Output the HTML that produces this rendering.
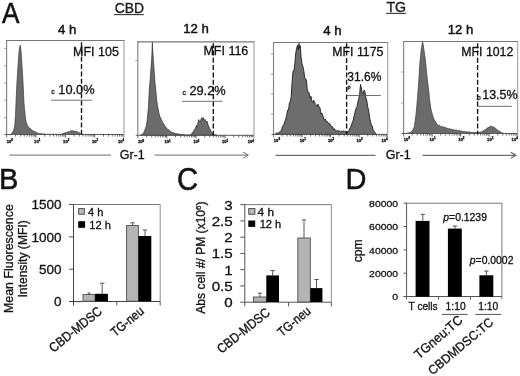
<!DOCTYPE html>
<html><head><meta charset="utf-8"><title>Figure</title>
<style>
html,body{margin:0;padding:0;background:#fff;}
body{width:520px;height:376px;overflow:hidden;font-family:"Liberation Sans",sans-serif;}
svg text{font-family:"Liberation Sans",sans-serif;}
</style></head><body>
<svg width="520" height="376" viewBox="0 0 520 376" style="display:block;filter:blur(0.35px)">
<rect width="520" height="376" fill="#fff"/>
<text x="0.00" y="0.00" font-size="28.8" text-anchor="start" fill="#111" font-family="Liberation Sans, sans-serif" stroke="#111" stroke-width="0.3" style="stroke-width:0.5" transform="translate(1.95,23.40) scale(0.91,1.02)">A</text>
<text x="0.00" y="0.00" font-size="29" text-anchor="start" fill="#111" font-family="Liberation Sans, sans-serif" stroke="#111" stroke-width="0.3" style="stroke-width:0.5" transform="translate(-0.90,188.75) scale(1,1.03)">B</text>
<text x="0.00" y="0.00" font-size="30" text-anchor="start" fill="#111" font-family="Liberation Sans, sans-serif" stroke="#111" stroke-width="0.3" style="stroke-width:0.5" transform="translate(177.10,190.40) scale(0.975,1.04)">C</text>
<text x="0.00" y="0.00" font-size="29" text-anchor="start" fill="#111" font-family="Liberation Sans, sans-serif" stroke="#111" stroke-width="0.3" style="stroke-width:0.5" transform="translate(345.50,188.85) scale(1,1.015)">D</text>
<text x="0.00" y="0.00" font-size="13.9" text-anchor="middle" fill="#222" font-family="Liberation Sans, sans-serif" stroke="#111" stroke-width="0.3"  transform="translate(129.30,12.70) scale(1,1.07)">CBD</text>
<line x1="113.80" y1="14.60" x2="143.80" y2="14.60" stroke="#333" stroke-width="1.1" />
<text x="0.00" y="0.00" font-size="14.2" text-anchor="middle" fill="#222" font-family="Liberation Sans, sans-serif" stroke="#111" stroke-width="0.3"  transform="translate(396.30,12.10) scale(1,1.04)">TG</text>
<line x1="386.20" y1="13.40" x2="406.00" y2="13.40" stroke="#333" stroke-width="1.1" />
<path d="M10.6,134.5 L10.6,134.4 L11.3,133.8 L12.0,133.1 L12.7,132.0 L13.4,130.5 L14.1,128.8 L14.8,125.1 L15.5,114.5 L16.2,98.3 L16.9,83.2 L17.6,72.1 L18.3,62.1 L19.0,52.0 L19.7,46.5 L20.2,45.3 L20.4,45.9 L21.1,51.6 L21.8,62.4 L22.5,73.8 L23.2,86.1 L23.9,101.6 L24.6,109.8 L25.3,116.7 L26.0,121.7 L26.7,123.2 L27.4,125.4 L28.1,126.7 L28.8,127.2 L29.5,127.8 L30.2,128.5 L30.9,129.2 L31.6,129.7 L32.3,130.4 L33.0,130.8 L33.7,131.1 L34.4,131.5 L35.1,131.7 L35.8,132.0 L36.5,132.4 L37.2,132.8 L37.9,133.1 L38.6,133.4 L39.3,133.5 L40.0,133.6 L40.7,133.6 L41.4,133.7 L42.1,133.8 L42.8,133.9 L43.5,133.9 L44.2,134.0 L44.9,134.1 L45.6,134.1 L46.3,134.2 L47.0,134.2 L47.7,134.2 L48.4,134.2 L49.1,134.3 L49.8,134.3 L50.5,134.3 L51.2,134.3 L51.9,134.3 L52.6,134.3 L53.3,134.3 L54.0,134.3 L54.7,134.3 L55.4,134.3 L56.1,134.3 L56.8,134.3 L57.5,134.3 L58.2,134.3 L58.9,134.3 L59.6,134.3 L60.3,134.2 L61.0,134.1 L61.7,134.0 L62.4,133.8 L63.1,133.6 L63.8,133.3 L64.5,133.0 L65.2,132.7 L65.9,132.5 L66.6,132.4 L67.3,132.1 L68.0,131.8 L68.7,131.7 L69.4,131.4 L70.1,131.2 L70.8,131.0 L71.5,130.7 L72.1,130.6 L72.2,130.8 L72.9,130.8 L73.6,131.1 L74.3,131.3 L75.0,131.2 L75.7,131.3 L76.4,131.3 L77.1,131.7 L77.8,132.0 L78.5,132.2 L79.2,132.7 L79.9,133.1 L80.6,133.7 L81.3,134.1 L82.0,134.2 L82.7,134.3 L83.4,134.3 L83.4,134.5 Z" fill="#6b6b6b" stroke="#3a3a3a" stroke-width="0.7" stroke-linejoin="bevel"/>
<line x1="6.10" y1="40.50" x2="124.50" y2="40.50" stroke="#777" stroke-width="1.15" />
<line x1="6.60" y1="40.00" x2="6.60" y2="137.50" stroke="#858585" stroke-width="1.15" />
<line x1="4.60" y1="134.50" x2="124.00" y2="134.50" stroke="#5a5a5a" stroke-width="1" />
<line x1="124.00" y1="40.00" x2="124.00" y2="137.50" stroke="#999" stroke-width="1" />
<line x1="4.10" y1="48.40" x2="6.60" y2="48.40" stroke="#888" stroke-width="0.8" />
<line x1="4.10" y1="65.90" x2="6.60" y2="65.90" stroke="#888" stroke-width="0.8" />
<line x1="4.10" y1="83.00" x2="6.60" y2="83.00" stroke="#888" stroke-width="0.8" />
<line x1="4.10" y1="100.20" x2="6.60" y2="100.20" stroke="#888" stroke-width="0.8" />
<line x1="4.10" y1="117.60" x2="6.60" y2="117.60" stroke="#888" stroke-width="0.8" />
<text x="9.8" y="142.7" font-size="4.1" text-anchor="middle" fill="#222" font-family="Liberation Sans, sans-serif" stroke="#111" stroke-width="0.3" font-weight="bold">10<tspan dy="-1.6" font-size="2.9">0</tspan></text>
<line x1="15.44" y1="134.50" x2="15.44" y2="136.60" stroke="#333" stroke-width="0.7" />
<line x1="20.60" y1="134.50" x2="20.60" y2="136.60" stroke="#333" stroke-width="0.7" />
<line x1="24.27" y1="134.50" x2="24.27" y2="136.60" stroke="#333" stroke-width="0.7" />
<line x1="27.11" y1="134.50" x2="27.11" y2="136.60" stroke="#333" stroke-width="0.7" />
<line x1="29.44" y1="134.50" x2="29.44" y2="136.60" stroke="#333" stroke-width="0.7" />
<line x1="31.40" y1="134.50" x2="31.40" y2="136.60" stroke="#333" stroke-width="0.7" />
<line x1="33.11" y1="134.50" x2="33.11" y2="136.60" stroke="#333" stroke-width="0.7" />
<line x1="34.61" y1="134.50" x2="34.61" y2="136.60" stroke="#333" stroke-width="0.7" />
<line x1="35.95" y1="134.50" x2="35.95" y2="137.50" stroke="#444" stroke-width="0.9" />
<text x="37.2" y="142.7" font-size="4.1" text-anchor="middle" fill="#222" font-family="Liberation Sans, sans-serif" stroke="#111" stroke-width="0.3" font-weight="bold">10<tspan dy="-1.6" font-size="2.9">1</tspan></text>
<line x1="44.79" y1="134.50" x2="44.79" y2="136.60" stroke="#333" stroke-width="0.7" />
<line x1="49.95" y1="134.50" x2="49.95" y2="136.60" stroke="#333" stroke-width="0.7" />
<line x1="53.62" y1="134.50" x2="53.62" y2="136.60" stroke="#333" stroke-width="0.7" />
<line x1="56.46" y1="134.50" x2="56.46" y2="136.60" stroke="#333" stroke-width="0.7" />
<line x1="58.79" y1="134.50" x2="58.79" y2="136.60" stroke="#333" stroke-width="0.7" />
<line x1="60.75" y1="134.50" x2="60.75" y2="136.60" stroke="#333" stroke-width="0.7" />
<line x1="62.46" y1="134.50" x2="62.46" y2="136.60" stroke="#333" stroke-width="0.7" />
<line x1="63.96" y1="134.50" x2="63.96" y2="136.60" stroke="#333" stroke-width="0.7" />
<line x1="65.30" y1="134.50" x2="65.30" y2="137.50" stroke="#444" stroke-width="0.9" />
<text x="66.2" y="142.7" font-size="4.1" text-anchor="middle" fill="#222" font-family="Liberation Sans, sans-serif" stroke="#111" stroke-width="0.3" font-weight="bold">10<tspan dy="-1.6" font-size="2.9">2</tspan></text>
<line x1="74.14" y1="134.50" x2="74.14" y2="136.60" stroke="#333" stroke-width="0.7" />
<line x1="79.30" y1="134.50" x2="79.30" y2="136.60" stroke="#333" stroke-width="0.7" />
<line x1="82.97" y1="134.50" x2="82.97" y2="136.60" stroke="#333" stroke-width="0.7" />
<line x1="85.81" y1="134.50" x2="85.81" y2="136.60" stroke="#333" stroke-width="0.7" />
<line x1="88.14" y1="134.50" x2="88.14" y2="136.60" stroke="#333" stroke-width="0.7" />
<line x1="90.10" y1="134.50" x2="90.10" y2="136.60" stroke="#333" stroke-width="0.7" />
<line x1="91.81" y1="134.50" x2="91.81" y2="136.60" stroke="#333" stroke-width="0.7" />
<line x1="93.31" y1="134.50" x2="93.31" y2="136.60" stroke="#333" stroke-width="0.7" />
<line x1="94.65" y1="134.50" x2="94.65" y2="137.50" stroke="#444" stroke-width="0.9" />
<text x="95.1" y="142.7" font-size="4.1" text-anchor="middle" fill="#222" font-family="Liberation Sans, sans-serif" stroke="#111" stroke-width="0.3" font-weight="bold">10<tspan dy="-1.6" font-size="2.9">3</tspan></text>
<line x1="103.49" y1="134.50" x2="103.49" y2="136.60" stroke="#333" stroke-width="0.7" />
<line x1="108.65" y1="134.50" x2="108.65" y2="136.60" stroke="#333" stroke-width="0.7" />
<line x1="112.32" y1="134.50" x2="112.32" y2="136.60" stroke="#333" stroke-width="0.7" />
<line x1="115.16" y1="134.50" x2="115.16" y2="136.60" stroke="#333" stroke-width="0.7" />
<line x1="117.49" y1="134.50" x2="117.49" y2="136.60" stroke="#333" stroke-width="0.7" />
<line x1="119.45" y1="134.50" x2="119.45" y2="136.60" stroke="#333" stroke-width="0.7" />
<line x1="121.16" y1="134.50" x2="121.16" y2="136.60" stroke="#333" stroke-width="0.7" />
<line x1="122.66" y1="134.50" x2="122.66" y2="136.60" stroke="#333" stroke-width="0.7" />
<text x="121.0" y="142.7" font-size="4.1" text-anchor="middle" fill="#222" font-family="Liberation Sans, sans-serif" stroke="#111" stroke-width="0.3" font-weight="bold">10<tspan dy="-1.6" font-size="2.9">4</tspan></text>
<line x1="81.50" y1="40.50" x2="81.50" y2="134.50" stroke="#111" stroke-width="1.35" stroke-dasharray="5,2.3" stroke-dashoffset="5.6"/>
<text x="0.00" y="0.00" font-size="13.2" text-anchor="middle" fill="#111" font-family="Liberation Sans, sans-serif" stroke="#111" stroke-width="0.3" style="stroke-width:0.45" transform="translate(67.20,33.70) scale(1,1.0)">4 h</text>
<text x="73.00" y="55.50" font-size="12.5" text-anchor="start" fill="#111" font-family="Liberation Sans, sans-serif" stroke="#111" stroke-width="0.3" >MFI 105</text>
<text x="58.30" y="93.80" font-size="12.8" text-anchor="start" fill="#111" font-family="Liberation Sans, sans-serif" stroke="#111" stroke-width="0.3" >10.0%</text>
<text x="51.20" y="93.60" font-size="6.8" text-anchor="start" fill="#222" font-family="Liberation Sans, sans-serif" stroke="#111" stroke-width="0.3" >c</text>
<line x1="51.00" y1="100.20" x2="92.00" y2="100.20" stroke="#5a5a5a" stroke-width="0.85" />
<path d="M140.5,135.3 L140.5,135.0 L141.3,134.8 L142.1,134.4 L142.9,133.7 L143.7,132.5 L144.5,131.0 L145.3,128.7 L146.1,126.7 L146.9,122.7 L147.7,115.1 L148.5,106.6 L149.3,89.5 L150.1,81.0 L150.9,69.2 L151.7,59.3 L152.4,42.0 L152.5,46.2 L153.3,59.4 L154.1,70.0 L154.9,81.8 L155.7,89.0 L156.5,98.8 L157.3,104.4 L158.1,109.0 L158.9,112.8 L159.7,116.3 L160.5,117.5 L161.3,119.4 L162.1,121.2 L162.9,123.2 L163.7,123.6 L164.5,125.2 L165.3,126.6 L166.1,127.7 L166.9,128.4 L167.7,129.2 L168.5,129.6 L169.3,130.5 L170.1,130.9 L170.9,131.7 L171.7,132.2 L172.5,132.2 L173.3,132.6 L174.1,133.1 L174.9,133.3 L175.7,133.5 L176.5,133.7 L177.3,133.8 L178.1,133.8 L178.9,134.2 L179.7,134.3 L180.5,134.4 L181.3,134.5 L182.1,134.5 L182.9,134.6 L183.7,134.7 L184.5,134.8 L185.3,134.8 L185.3,135.3 Z" fill="#6b6b6b" stroke="#2e2e2e" stroke-width="0.7" stroke-linejoin="bevel"/>
<path d="M186.0,135.3 L186.0,135.0 L186.2,135.0 L186.5,135.0 L186.8,135.0 L187.0,135.0 L187.2,135.0 L187.5,135.0 L187.8,135.0 L188.0,135.0 L188.2,135.0 L188.5,135.0 L188.8,135.0 L189.0,135.0 L189.2,135.0 L189.5,135.0 L189.8,135.0 L190.0,135.0 L190.2,135.0 L190.5,135.0 L190.8,134.8 L191.0,134.5 L191.2,134.2 L191.5,133.9 L191.8,133.6 L192.0,133.2 L192.2,132.9 L192.5,132.6 L192.8,132.3 L193.0,131.9 L193.2,131.6 L193.5,131.3 L193.8,131.0 L194.0,130.6 L194.2,130.1 L194.5,129.7 L194.8,129.3 L195.0,128.9 L195.2,128.5 L195.5,128.0 L195.8,127.3 L196.0,126.7 L196.2,126.1 L196.5,125.5 L196.8,126.0 L197.0,126.6 L197.2,125.8 L197.5,124.9 L197.8,124.1 L198.0,123.2 L198.2,121.9 L198.5,120.3 L198.6,119.7 L198.8,119.9 L199.0,120.3 L199.2,120.6 L199.5,120.9 L199.8,121.2 L200.0,121.5 L200.2,121.7 L200.5,120.9 L200.8,120.2 L201.0,119.5 L201.2,118.7 L201.5,118.2 L201.8,117.7 L201.8,117.6 L202.0,118.2 L202.2,118.9 L202.5,119.6 L202.8,119.5 L203.0,118.8 L203.2,118.0 L203.4,117.6 L203.5,117.9 L203.8,118.7 L204.0,119.5 L204.2,120.2 L204.5,120.3 L204.8,120.1 L205.0,119.9 L205.2,119.7 L205.3,119.7 L205.5,120.4 L205.8,121.3 L206.0,122.2 L206.2,122.3 L206.5,122.0 L206.8,121.7 L207.0,121.4 L207.1,121.3 L207.2,121.9 L207.5,122.9 L207.8,123.9 L208.0,124.8 L208.2,125.4 L208.5,126.1 L208.8,126.7 L209.0,127.3 L209.2,127.8 L209.5,128.3 L209.8,128.7 L210.0,129.2 L210.2,129.7 L210.5,130.2 L210.8,130.7 L211.0,131.1 L211.2,131.6 L211.5,132.0 L211.8,132.3 L212.0,132.6 L212.2,132.9 L212.5,133.2 L212.8,133.5 L213.0,133.8 L213.2,134.0 L213.5,134.1 L213.8,134.3 L214.0,134.5 L214.2,134.7 L214.5,134.8 L214.8,134.9 L215.0,135.0 L215.2,135.0 L215.5,135.0 L215.8,135.1 L216.0,135.1 L216.2,135.2 L216.5,135.2 L216.8,135.2 L217.0,135.3 L217.0,135.3 Z" fill="#6b6b6b" stroke="#222" stroke-width="0.8" stroke-linejoin="bevel"/>
<line x1="137.30" y1="41.80" x2="254.50" y2="41.80" stroke="#777" stroke-width="1.15" />
<line x1="137.80" y1="41.30" x2="137.80" y2="138.30" stroke="#858585" stroke-width="1.15" />
<line x1="135.80" y1="135.30" x2="254.00" y2="135.30" stroke="#5a5a5a" stroke-width="1" />
<line x1="254.00" y1="41.30" x2="254.00" y2="138.30" stroke="#999" stroke-width="1" />
<line x1="135.30" y1="60.50" x2="137.80" y2="60.50" stroke="#888" stroke-width="0.8" />
<text x="141.0" y="143.4" font-size="4.1" text-anchor="middle" fill="#222" font-family="Liberation Sans, sans-serif" stroke="#111" stroke-width="0.3" font-weight="bold">10<tspan dy="-1.6" font-size="2.9">0</tspan></text>
<line x1="146.54" y1="135.30" x2="146.54" y2="137.40" stroke="#333" stroke-width="0.7" />
<line x1="151.66" y1="135.30" x2="151.66" y2="137.40" stroke="#333" stroke-width="0.7" />
<line x1="155.29" y1="135.30" x2="155.29" y2="137.40" stroke="#333" stroke-width="0.7" />
<line x1="158.11" y1="135.30" x2="158.11" y2="137.40" stroke="#333" stroke-width="0.7" />
<line x1="160.41" y1="135.30" x2="160.41" y2="137.40" stroke="#333" stroke-width="0.7" />
<line x1="162.35" y1="135.30" x2="162.35" y2="137.40" stroke="#333" stroke-width="0.7" />
<line x1="164.03" y1="135.30" x2="164.03" y2="137.40" stroke="#333" stroke-width="0.7" />
<line x1="165.52" y1="135.30" x2="165.52" y2="137.40" stroke="#333" stroke-width="0.7" />
<line x1="166.85" y1="135.30" x2="166.85" y2="138.30" stroke="#444" stroke-width="0.9" />
<text x="167.6" y="143.4" font-size="4.1" text-anchor="middle" fill="#222" font-family="Liberation Sans, sans-serif" stroke="#111" stroke-width="0.3" font-weight="bold">10<tspan dy="-1.6" font-size="2.9">1</tspan></text>
<line x1="175.59" y1="135.30" x2="175.59" y2="137.40" stroke="#333" stroke-width="0.7" />
<line x1="180.71" y1="135.30" x2="180.71" y2="137.40" stroke="#333" stroke-width="0.7" />
<line x1="184.34" y1="135.30" x2="184.34" y2="137.40" stroke="#333" stroke-width="0.7" />
<line x1="187.16" y1="135.30" x2="187.16" y2="137.40" stroke="#333" stroke-width="0.7" />
<line x1="189.46" y1="135.30" x2="189.46" y2="137.40" stroke="#333" stroke-width="0.7" />
<line x1="191.40" y1="135.30" x2="191.40" y2="137.40" stroke="#333" stroke-width="0.7" />
<line x1="193.08" y1="135.30" x2="193.08" y2="137.40" stroke="#333" stroke-width="0.7" />
<line x1="194.57" y1="135.30" x2="194.57" y2="137.40" stroke="#333" stroke-width="0.7" />
<line x1="195.90" y1="135.30" x2="195.90" y2="138.30" stroke="#444" stroke-width="0.9" />
<text x="196.3" y="143.4" font-size="4.1" text-anchor="middle" fill="#222" font-family="Liberation Sans, sans-serif" stroke="#111" stroke-width="0.3" font-weight="bold">10<tspan dy="-1.6" font-size="2.9">2</tspan></text>
<line x1="204.64" y1="135.30" x2="204.64" y2="137.40" stroke="#333" stroke-width="0.7" />
<line x1="209.76" y1="135.30" x2="209.76" y2="137.40" stroke="#333" stroke-width="0.7" />
<line x1="213.39" y1="135.30" x2="213.39" y2="137.40" stroke="#333" stroke-width="0.7" />
<line x1="216.21" y1="135.30" x2="216.21" y2="137.40" stroke="#333" stroke-width="0.7" />
<line x1="218.51" y1="135.30" x2="218.51" y2="137.40" stroke="#333" stroke-width="0.7" />
<line x1="220.45" y1="135.30" x2="220.45" y2="137.40" stroke="#333" stroke-width="0.7" />
<line x1="222.13" y1="135.30" x2="222.13" y2="137.40" stroke="#333" stroke-width="0.7" />
<line x1="223.62" y1="135.30" x2="223.62" y2="137.40" stroke="#333" stroke-width="0.7" />
<line x1="224.95" y1="135.30" x2="224.95" y2="138.30" stroke="#444" stroke-width="0.9" />
<text x="225.0" y="143.4" font-size="4.1" text-anchor="middle" fill="#222" font-family="Liberation Sans, sans-serif" stroke="#111" stroke-width="0.3" font-weight="bold">10<tspan dy="-1.6" font-size="2.9">3</tspan></text>
<line x1="233.69" y1="135.30" x2="233.69" y2="137.40" stroke="#333" stroke-width="0.7" />
<line x1="238.81" y1="135.30" x2="238.81" y2="137.40" stroke="#333" stroke-width="0.7" />
<line x1="242.44" y1="135.30" x2="242.44" y2="137.40" stroke="#333" stroke-width="0.7" />
<line x1="245.26" y1="135.30" x2="245.26" y2="137.40" stroke="#333" stroke-width="0.7" />
<line x1="247.56" y1="135.30" x2="247.56" y2="137.40" stroke="#333" stroke-width="0.7" />
<line x1="249.50" y1="135.30" x2="249.50" y2="137.40" stroke="#333" stroke-width="0.7" />
<line x1="251.18" y1="135.30" x2="251.18" y2="137.40" stroke="#333" stroke-width="0.7" />
<line x1="252.67" y1="135.30" x2="252.67" y2="137.40" stroke="#333" stroke-width="0.7" />
<text x="250.8" y="143.4" font-size="4.1" text-anchor="middle" fill="#222" font-family="Liberation Sans, sans-serif" stroke="#111" stroke-width="0.3" font-weight="bold">10<tspan dy="-1.6" font-size="2.9">4</tspan></text>
<line x1="213.30" y1="41.50" x2="213.30" y2="135.30" stroke="#111" stroke-width="1.35" stroke-dasharray="5,2.3" stroke-dashoffset="5.6"/>
<text x="0.00" y="0.00" font-size="13.2" text-anchor="middle" fill="#111" font-family="Liberation Sans, sans-serif" stroke="#111" stroke-width="0.3" style="stroke-width:0.45" transform="translate(196.00,33.30) scale(1,1.0)">12 h</text>
<text x="203.40" y="54.80" font-size="12.5" text-anchor="start" fill="#111" font-family="Liberation Sans, sans-serif" stroke="#111" stroke-width="0.3" >MFI 116</text>
<text x="189.40" y="95.30" font-size="12.8" text-anchor="start" fill="#111" font-family="Liberation Sans, sans-serif" stroke="#111" stroke-width="0.3" >29.2%</text>
<text x="182.60" y="95.20" font-size="6.8" text-anchor="start" fill="#222" font-family="Liberation Sans, sans-serif" stroke="#111" stroke-width="0.3" >c</text>
<line x1="182.00" y1="101.30" x2="222.50" y2="101.30" stroke="#5a5a5a" stroke-width="0.85" />
<line x1="9.50" y1="155.10" x2="111.00" y2="155.10" stroke="#8a8a8a" stroke-width="1.3" />
<line x1="154.50" y1="155.10" x2="247.50" y2="155.10" stroke="#8a8a8a" stroke-width="1.3" />
<path d="M243.2,152.1 L248,155.1 L243.2,158.1" fill="none" stroke="#777" stroke-width="1.1"/>
<text x="132.20" y="158.70" font-size="12.5" text-anchor="middle" fill="#111" font-family="Liberation Sans, sans-serif" stroke="#111" stroke-width="0.3" >Gr-1</text>
<path d="M275.0,134.4 L275.0,134.3 L275.9,133.6 L276.8,133.0 L277.7,133.2 L278.6,132.8 L279.5,131.9 L280.4,131.4 L281.3,130.8 L282.2,127.3 L283.1,125.6 L284.0,124.3 L284.9,121.5 L285.8,118.9 L286.7,115.1 L287.6,110.1 L288.5,110.1 L289.4,103.1 L290.3,101.3 L291.2,96.6 L292.1,81.7 L293.0,71.1 L293.9,70.8 L294.8,63.8 L295.7,53.3 L296.6,48.3 L297.5,45.2 L298.4,49.9 L299.0,43.3 L299.3,48.1 L300.2,45.6 L301.1,57.2 L302.0,64.1 L302.9,66.3 L303.8,70.9 L304.7,77.7 L305.6,78.4 L306.5,81.0 L307.4,91.8 L308.3,91.7 L309.2,93.1 L310.1,98.1 L311.0,96.3 L311.9,101.1 L312.8,102.5 L313.7,100.2 L314.6,102.3 L315.5,104.4 L316.4,104.9 L317.3,106.5 L318.2,104.1 L318.3,105.5 L319.1,107.0 L320.0,107.7 L320.9,114.1 L321.8,112.9 L322.7,115.3 L323.6,117.7 L324.5,120.3 L325.4,119.1 L326.3,122.1 L327.2,121.3 L328.1,122.7 L329.0,124.0 L329.9,123.6 L330.8,126.2 L331.7,126.3 L332.6,126.7 L333.5,129.8 L334.4,128.7 L335.3,129.9 L336.2,130.9 L337.1,130.9 L338.0,130.5 L338.9,131.1 L339.8,131.3 L340.7,131.9 L341.6,130.7 L342.5,131.6 L343.4,130.9 L344.3,131.0 L345.2,131.9 L346.1,131.3 L347.0,131.4 L347.9,131.8 L348.8,131.0 L349.7,128.5 L350.6,127.3 L351.5,124.6 L352.4,122.2 L353.3,120.0 L354.2,115.3 L355.1,112.1 L356.0,108.2 L356.9,107.4 L357.8,102.2 L358.7,98.8 L359.6,94.6 L360.5,84.4 L360.7,85.2 L361.4,87.8 L362.3,93.4 L363.2,93.9 L364.1,90.1 L365.0,91.9 L365.9,97.6 L366.8,100.6 L367.7,106.6 L368.6,110.3 L369.5,117.1 L370.4,121.1 L371.3,125.0 L372.2,125.7 L373.1,130.0 L374.0,131.7 L374.9,132.2 L375.8,133.6 L375.8,134.4 Z" fill="#6d6d6d" stroke="#161616" stroke-width="0.85" stroke-linejoin="bevel"/>
<line x1="273.00" y1="42.45" x2="388.20" y2="42.45" stroke="#777" stroke-width="1.15" />
<line x1="273.50" y1="41.95" x2="273.50" y2="137.40" stroke="#858585" stroke-width="1.15" />
<line x1="271.50" y1="134.40" x2="387.70" y2="134.40" stroke="#5a5a5a" stroke-width="1" />
<line x1="387.70" y1="41.95" x2="387.70" y2="137.40" stroke="#999" stroke-width="1" />
<line x1="271.00" y1="54.00" x2="273.50" y2="54.00" stroke="#888" stroke-width="0.8" />
<line x1="271.00" y1="74.20" x2="273.50" y2="74.20" stroke="#888" stroke-width="0.8" />
<line x1="271.00" y1="94.10" x2="273.50" y2="94.10" stroke="#888" stroke-width="0.8" />
<line x1="271.00" y1="114.00" x2="273.50" y2="114.00" stroke="#888" stroke-width="0.8" />
<text x="276.9" y="141.5" font-size="4.1" text-anchor="middle" fill="#222" font-family="Liberation Sans, sans-serif" stroke="#111" stroke-width="0.3" font-weight="bold">10<tspan dy="-1.6" font-size="2.9">0</tspan></text>
<line x1="282.09" y1="134.40" x2="282.09" y2="136.50" stroke="#333" stroke-width="0.7" />
<line x1="287.12" y1="134.40" x2="287.12" y2="136.50" stroke="#333" stroke-width="0.7" />
<line x1="290.69" y1="134.40" x2="290.69" y2="136.50" stroke="#333" stroke-width="0.7" />
<line x1="293.46" y1="134.40" x2="293.46" y2="136.50" stroke="#333" stroke-width="0.7" />
<line x1="295.72" y1="134.40" x2="295.72" y2="136.50" stroke="#333" stroke-width="0.7" />
<line x1="297.63" y1="134.40" x2="297.63" y2="136.50" stroke="#333" stroke-width="0.7" />
<line x1="299.28" y1="134.40" x2="299.28" y2="136.50" stroke="#333" stroke-width="0.7" />
<line x1="300.74" y1="134.40" x2="300.74" y2="136.50" stroke="#333" stroke-width="0.7" />
<line x1="302.05" y1="134.40" x2="302.05" y2="137.40" stroke="#444" stroke-width="0.9" />
<text x="302.8" y="141.5" font-size="4.1" text-anchor="middle" fill="#222" font-family="Liberation Sans, sans-serif" stroke="#111" stroke-width="0.3" font-weight="bold">10<tspan dy="-1.6" font-size="2.9">1</tspan></text>
<line x1="310.64" y1="134.40" x2="310.64" y2="136.50" stroke="#333" stroke-width="0.7" />
<line x1="315.67" y1="134.40" x2="315.67" y2="136.50" stroke="#333" stroke-width="0.7" />
<line x1="319.24" y1="134.40" x2="319.24" y2="136.50" stroke="#333" stroke-width="0.7" />
<line x1="322.01" y1="134.40" x2="322.01" y2="136.50" stroke="#333" stroke-width="0.7" />
<line x1="324.27" y1="134.40" x2="324.27" y2="136.50" stroke="#333" stroke-width="0.7" />
<line x1="326.18" y1="134.40" x2="326.18" y2="136.50" stroke="#333" stroke-width="0.7" />
<line x1="327.83" y1="134.40" x2="327.83" y2="136.50" stroke="#333" stroke-width="0.7" />
<line x1="329.29" y1="134.40" x2="329.29" y2="136.50" stroke="#333" stroke-width="0.7" />
<line x1="330.60" y1="134.40" x2="330.60" y2="137.40" stroke="#444" stroke-width="0.9" />
<text x="331.1" y="141.5" font-size="4.1" text-anchor="middle" fill="#222" font-family="Liberation Sans, sans-serif" stroke="#111" stroke-width="0.3" font-weight="bold">10<tspan dy="-1.6" font-size="2.9">2</tspan></text>
<line x1="339.19" y1="134.40" x2="339.19" y2="136.50" stroke="#333" stroke-width="0.7" />
<line x1="344.22" y1="134.40" x2="344.22" y2="136.50" stroke="#333" stroke-width="0.7" />
<line x1="347.79" y1="134.40" x2="347.79" y2="136.50" stroke="#333" stroke-width="0.7" />
<line x1="350.56" y1="134.40" x2="350.56" y2="136.50" stroke="#333" stroke-width="0.7" />
<line x1="352.82" y1="134.40" x2="352.82" y2="136.50" stroke="#333" stroke-width="0.7" />
<line x1="354.73" y1="134.40" x2="354.73" y2="136.50" stroke="#333" stroke-width="0.7" />
<line x1="356.38" y1="134.40" x2="356.38" y2="136.50" stroke="#333" stroke-width="0.7" />
<line x1="357.84" y1="134.40" x2="357.84" y2="136.50" stroke="#333" stroke-width="0.7" />
<line x1="359.15" y1="134.40" x2="359.15" y2="137.40" stroke="#444" stroke-width="0.9" />
<text x="359.6" y="141.5" font-size="4.1" text-anchor="middle" fill="#222" font-family="Liberation Sans, sans-serif" stroke="#111" stroke-width="0.3" font-weight="bold">10<tspan dy="-1.6" font-size="2.9">3</tspan></text>
<line x1="367.74" y1="134.40" x2="367.74" y2="136.50" stroke="#333" stroke-width="0.7" />
<line x1="372.77" y1="134.40" x2="372.77" y2="136.50" stroke="#333" stroke-width="0.7" />
<line x1="376.34" y1="134.40" x2="376.34" y2="136.50" stroke="#333" stroke-width="0.7" />
<line x1="379.11" y1="134.40" x2="379.11" y2="136.50" stroke="#333" stroke-width="0.7" />
<line x1="381.37" y1="134.40" x2="381.37" y2="136.50" stroke="#333" stroke-width="0.7" />
<line x1="383.28" y1="134.40" x2="383.28" y2="136.50" stroke="#333" stroke-width="0.7" />
<line x1="384.93" y1="134.40" x2="384.93" y2="136.50" stroke="#333" stroke-width="0.7" />
<line x1="386.39" y1="134.40" x2="386.39" y2="136.50" stroke="#333" stroke-width="0.7" />
<text x="384.6" y="141.5" font-size="4.1" text-anchor="middle" fill="#222" font-family="Liberation Sans, sans-serif" stroke="#111" stroke-width="0.3" font-weight="bold">10<tspan dy="-1.6" font-size="2.9">4</tspan></text>
<line x1="346.60" y1="41.60" x2="346.60" y2="134.20" stroke="#111" stroke-width="1.35" stroke-dasharray="5,2.3" stroke-dashoffset="5.6"/>
<text x="0.00" y="0.00" font-size="13.2" text-anchor="middle" fill="#111" font-family="Liberation Sans, sans-serif" stroke="#111" stroke-width="0.3" style="stroke-width:0.45" transform="translate(332.30,35.30) scale(1,1.0)">4 h</text>
<text x="332.30" y="55.50" font-size="12.3" text-anchor="start" fill="#111" font-family="Liberation Sans, sans-serif" stroke="#111" stroke-width="0.3" >MFI 1175</text>
<text x="347.30" y="80.50" font-size="12.0" text-anchor="start" fill="#111" font-family="Liberation Sans, sans-serif" stroke="#111" stroke-width="0.3" >31.6%</text>
<text x="347.50" y="89.50" font-size="4.5" text-anchor="start" fill="#222" font-family="Liberation Sans, sans-serif" stroke="#111" stroke-width="0.3" font-weight="bold">P</text>
<line x1="346.80" y1="95.50" x2="380.80" y2="95.50" stroke="#555" stroke-width="0.85" />
<path d="M405.5,133.5 L405.5,133.5 L406.3,133.4 L407.1,133.2 L407.9,133.1 L408.7,132.9 L409.5,132.6 L410.3,132.3 L411.1,132.0 L411.9,131.3 L412.7,130.0 L413.5,128.9 L414.3,126.5 L415.1,121.2 L415.9,115.3 L416.7,107.3 L417.5,97.6 L418.3,87.7 L419.1,75.9 L419.9,63.3 L420.7,54.6 L421.5,47.7 L422.3,43.5 L422.5,41.8 L423.1,44.1 L423.9,49.6 L424.7,55.3 L425.5,61.0 L426.3,69.4 L427.1,77.2 L427.9,84.1 L428.7,90.6 L429.5,98.6 L430.3,105.0 L431.1,110.0 L431.9,112.7 L432.7,115.7 L433.5,117.9 L434.3,120.0 L435.1,121.1 L435.9,122.2 L436.7,123.6 L437.5,124.9 L438.3,125.2 L439.1,125.2 L439.9,125.5 L440.7,126.4 L441.5,126.5 L442.3,126.8 L443.1,126.7 L443.9,127.0 L444.7,127.6 L445.5,127.7 L446.3,127.8 L447.1,128.5 L447.9,128.6 L448.7,128.8 L449.5,128.6 L450.3,129.2 L451.1,129.0 L451.9,129.5 L452.7,129.5 L453.5,129.6 L454.3,129.9 L455.1,130.2 L455.9,130.1 L456.7,130.2 L457.5,130.5 L458.3,130.5 L459.1,130.7 L459.9,130.8 L460.7,130.9 L461.5,131.1 L462.3,131.3 L463.1,131.4 L463.9,131.6 L464.7,131.5 L465.5,131.7 L466.3,131.7 L467.1,131.8 L467.9,131.8 L468.7,132.0 L469.5,132.0 L470.3,132.3 L471.1,132.3 L471.9,132.4 L472.7,132.5 L473.5,132.5 L474.3,132.5 L475.1,132.5 L475.9,132.6 L476.7,132.6 L477.5,132.6 L478.3,132.5 L479.1,132.4 L479.9,132.2 L480.7,132.0 L481.5,131.7 L482.3,131.4 L483.1,130.7 L483.9,130.5 L484.7,129.9 L485.5,129.4 L486.3,129.0 L487.1,128.2 L487.9,127.6 L488.7,127.2 L489.5,127.0 L490.3,126.2 L491.0,126.0 L491.1,126.2 L491.9,126.5 L492.7,126.8 L493.5,127.0 L494.3,127.5 L495.1,128.0 L495.9,128.6 L496.7,129.3 L497.5,130.2 L498.3,130.6 L499.1,131.0 L499.9,131.4 L500.7,132.1 L501.5,132.4 L502.3,132.9 L503.1,133.1 L503.9,133.3 L504.7,133.5 L505.5,133.5 L505.5,133.5 Z" fill="#6b6b6b" stroke="#3a3a3a" stroke-width="0.7" stroke-linejoin="bevel"/>
<line x1="403.10" y1="41.50" x2="518.20" y2="41.50" stroke="#777" stroke-width="1.15" />
<line x1="403.60" y1="41.00" x2="403.60" y2="136.50" stroke="#858585" stroke-width="1.15" />
<line x1="401.60" y1="133.50" x2="517.70" y2="133.50" stroke="#5a5a5a" stroke-width="1" />
<line x1="517.70" y1="41.00" x2="517.70" y2="136.50" stroke="#999" stroke-width="1" />
<line x1="401.10" y1="72.00" x2="403.60" y2="72.00" stroke="#888" stroke-width="0.8" />
<line x1="401.10" y1="103.00" x2="403.60" y2="103.00" stroke="#888" stroke-width="0.8" />
<text x="406.9" y="140.6" font-size="4.1" text-anchor="middle" fill="#222" font-family="Liberation Sans, sans-serif" stroke="#111" stroke-width="0.3" font-weight="bold">10<tspan dy="-1.6" font-size="2.9">0</tspan></text>
<line x1="412.19" y1="133.50" x2="412.19" y2="135.60" stroke="#333" stroke-width="0.7" />
<line x1="417.21" y1="133.50" x2="417.21" y2="135.60" stroke="#333" stroke-width="0.7" />
<line x1="420.77" y1="133.50" x2="420.77" y2="135.60" stroke="#333" stroke-width="0.7" />
<line x1="423.54" y1="133.50" x2="423.54" y2="135.60" stroke="#333" stroke-width="0.7" />
<line x1="425.80" y1="133.50" x2="425.80" y2="135.60" stroke="#333" stroke-width="0.7" />
<line x1="427.71" y1="133.50" x2="427.71" y2="135.60" stroke="#333" stroke-width="0.7" />
<line x1="429.36" y1="133.50" x2="429.36" y2="135.60" stroke="#333" stroke-width="0.7" />
<line x1="430.82" y1="133.50" x2="430.82" y2="135.60" stroke="#333" stroke-width="0.7" />
<line x1="432.12" y1="133.50" x2="432.12" y2="136.50" stroke="#444" stroke-width="0.9" />
<text x="432.5" y="140.6" font-size="4.1" text-anchor="middle" fill="#222" font-family="Liberation Sans, sans-serif" stroke="#111" stroke-width="0.3" font-weight="bold">10<tspan dy="-1.6" font-size="2.9">1</tspan></text>
<line x1="440.71" y1="133.50" x2="440.71" y2="135.60" stroke="#333" stroke-width="0.7" />
<line x1="445.73" y1="133.50" x2="445.73" y2="135.60" stroke="#333" stroke-width="0.7" />
<line x1="449.30" y1="133.50" x2="449.30" y2="135.60" stroke="#333" stroke-width="0.7" />
<line x1="452.06" y1="133.50" x2="452.06" y2="135.60" stroke="#333" stroke-width="0.7" />
<line x1="454.32" y1="133.50" x2="454.32" y2="135.60" stroke="#333" stroke-width="0.7" />
<line x1="456.23" y1="133.50" x2="456.23" y2="135.60" stroke="#333" stroke-width="0.7" />
<line x1="457.89" y1="133.50" x2="457.89" y2="135.60" stroke="#333" stroke-width="0.7" />
<line x1="459.34" y1="133.50" x2="459.34" y2="135.60" stroke="#333" stroke-width="0.7" />
<line x1="460.65" y1="133.50" x2="460.65" y2="136.50" stroke="#444" stroke-width="0.9" />
<text x="461.3" y="140.6" font-size="4.1" text-anchor="middle" fill="#222" font-family="Liberation Sans, sans-serif" stroke="#111" stroke-width="0.3" font-weight="bold">10<tspan dy="-1.6" font-size="2.9">2</tspan></text>
<line x1="469.24" y1="133.50" x2="469.24" y2="135.60" stroke="#333" stroke-width="0.7" />
<line x1="474.26" y1="133.50" x2="474.26" y2="135.60" stroke="#333" stroke-width="0.7" />
<line x1="477.82" y1="133.50" x2="477.82" y2="135.60" stroke="#333" stroke-width="0.7" />
<line x1="480.59" y1="133.50" x2="480.59" y2="135.60" stroke="#333" stroke-width="0.7" />
<line x1="482.85" y1="133.50" x2="482.85" y2="135.60" stroke="#333" stroke-width="0.7" />
<line x1="484.76" y1="133.50" x2="484.76" y2="135.60" stroke="#333" stroke-width="0.7" />
<line x1="486.41" y1="133.50" x2="486.41" y2="135.60" stroke="#333" stroke-width="0.7" />
<line x1="487.87" y1="133.50" x2="487.87" y2="135.60" stroke="#333" stroke-width="0.7" />
<line x1="489.18" y1="133.50" x2="489.18" y2="136.50" stroke="#444" stroke-width="0.9" />
<text x="490.2" y="140.6" font-size="4.1" text-anchor="middle" fill="#222" font-family="Liberation Sans, sans-serif" stroke="#111" stroke-width="0.3" font-weight="bold">10<tspan dy="-1.6" font-size="2.9">3</tspan></text>
<line x1="497.76" y1="133.50" x2="497.76" y2="135.60" stroke="#333" stroke-width="0.7" />
<line x1="502.78" y1="133.50" x2="502.78" y2="135.60" stroke="#333" stroke-width="0.7" />
<line x1="506.35" y1="133.50" x2="506.35" y2="135.60" stroke="#333" stroke-width="0.7" />
<line x1="509.11" y1="133.50" x2="509.11" y2="135.60" stroke="#333" stroke-width="0.7" />
<line x1="511.37" y1="133.50" x2="511.37" y2="135.60" stroke="#333" stroke-width="0.7" />
<line x1="513.28" y1="133.50" x2="513.28" y2="135.60" stroke="#333" stroke-width="0.7" />
<line x1="514.94" y1="133.50" x2="514.94" y2="135.60" stroke="#333" stroke-width="0.7" />
<line x1="516.39" y1="133.50" x2="516.39" y2="135.60" stroke="#333" stroke-width="0.7" />
<text x="514.7" y="140.6" font-size="4.1" text-anchor="middle" fill="#222" font-family="Liberation Sans, sans-serif" stroke="#111" stroke-width="0.3" font-weight="bold">10<tspan dy="-1.6" font-size="2.9">4</tspan></text>
<line x1="477.60" y1="41.50" x2="477.60" y2="134.00" stroke="#111" stroke-width="1.35" stroke-dasharray="5,2.3" stroke-dashoffset="5.6"/>
<text x="0.00" y="0.00" font-size="13.2" text-anchor="middle" fill="#111" font-family="Liberation Sans, sans-serif" stroke="#111" stroke-width="0.3" style="stroke-width:0.45" transform="translate(460.60,34.30) scale(1,1.0)">12 h</text>
<text x="461.30" y="55.50" font-size="12.3" text-anchor="start" fill="#111" font-family="Liberation Sans, sans-serif" stroke="#111" stroke-width="0.3" >MFI 1012</text>
<text x="482.20" y="98.80" font-size="12.5" text-anchor="start" fill="#111" font-family="Liberation Sans, sans-serif" stroke="#111" stroke-width="0.3" >13.5%</text>
<text x="476.40" y="100.30" font-size="7.8" text-anchor="start" fill="#222" font-family="Liberation Sans, sans-serif" stroke="#111" stroke-width="0.3" >b</text>
<line x1="477.60" y1="106.30" x2="511.80" y2="106.30" stroke="#555" stroke-width="0.85" />
<line x1="275.50" y1="155.30" x2="375.50" y2="155.30" stroke="#6e6e6e" stroke-width="1.2" />
<line x1="422.50" y1="155.30" x2="515.50" y2="155.30" stroke="#6e6e6e" stroke-width="1.2" />
<path d="M510.8,152.2 L515.8,155.3 L510.8,158.4" fill="none" stroke="#5a5a5a" stroke-width="1.1"/>
<text x="398.20" y="159.30" font-size="12.5" text-anchor="middle" fill="#111" font-family="Liberation Sans, sans-serif" stroke="#111" stroke-width="0.3" >Gr-1</text>
<line x1="73.50" y1="204.50" x2="160.20" y2="204.50" stroke="#777" stroke-width="1" />
<line x1="160.20" y1="204.50" x2="160.20" y2="301.50" stroke="#8c8c8c" stroke-width="1" />
<line x1="73.50" y1="204.00" x2="73.50" y2="305.50" stroke="#444" stroke-width="1" />
<line x1="69.00" y1="301.50" x2="160.20" y2="301.50" stroke="#444" stroke-width="1" />
<line x1="69.00" y1="204.50" x2="73.50" y2="204.50" stroke="#555" stroke-width="1" />
<line x1="69.00" y1="236.80" x2="73.50" y2="236.80" stroke="#555" stroke-width="1" />
<line x1="69.00" y1="269.20" x2="73.50" y2="269.20" stroke="#555" stroke-width="1" />
<line x1="116.80" y1="301.50" x2="116.80" y2="305.50" stroke="#555" stroke-width="1" />
<line x1="160.20" y1="301.50" x2="160.20" y2="305.50" stroke="#555" stroke-width="1" />
<text x="61.60" y="208.60" font-size="13.5" text-anchor="end" fill="#111" font-family="Liberation Sans, sans-serif" stroke="#111" stroke-width="0.3" >1500</text>
<text x="61.60" y="241.60" font-size="13.5" text-anchor="end" fill="#111" font-family="Liberation Sans, sans-serif" stroke="#111" stroke-width="0.3" >1000</text>
<text x="61.60" y="274.00" font-size="13.5" text-anchor="end" fill="#111" font-family="Liberation Sans, sans-serif" stroke="#111" stroke-width="0.3" >500</text>
<text x="61.60" y="306.30" font-size="13.5" text-anchor="end" fill="#111" font-family="Liberation Sans, sans-serif" stroke="#111" stroke-width="0.3" >0</text>
<rect x="83.00" y="294.50" width="12.10" height="6.70" fill="#b4b4b4" stroke="#4f4f4f" stroke-width="0.9"/>
<rect x="95.10" y="293.80" width="12.80" height="7.50" fill="#000" stroke="none" stroke-width="0"/>
<line x1="89.00" y1="293.00" x2="89.00" y2="294.50" stroke="#444" stroke-width="0.9" /><line x1="87.50" y1="293.00" x2="90.50" y2="293.00" stroke="#444" stroke-width="0.9" />
<line x1="102.20" y1="283.20" x2="102.20" y2="294.00" stroke="#444" stroke-width="0.9" /><line x1="100.00" y1="283.20" x2="104.40" y2="283.20" stroke="#444" stroke-width="0.9" />
<rect x="126.60" y="225.50" width="11.80" height="75.70" fill="#b4b4b4" stroke="#4f4f4f" stroke-width="0.9"/>
<rect x="138.40" y="236.00" width="12.90" height="65.30" fill="#000" stroke="none" stroke-width="0"/>
<line x1="132.50" y1="222.80" x2="132.50" y2="225.50" stroke="#444" stroke-width="0.9" /><line x1="130.30" y1="222.80" x2="134.70" y2="222.80" stroke="#444" stroke-width="0.9" />
<line x1="145.00" y1="230.00" x2="145.00" y2="236.00" stroke="#444" stroke-width="0.9" /><line x1="142.80" y1="230.00" x2="147.20" y2="230.00" stroke="#444" stroke-width="0.9" />
<rect x="78.70" y="208.60" width="5.60" height="5.60" fill="#bcbcbc" stroke="#4a4a4a" stroke-width="1"/>
<rect x="78.20" y="221.20" width="6.90" height="6.60" fill="#000" stroke="none" stroke-width="0"/>
<text x="88.00" y="215.50" font-size="11" text-anchor="start" fill="#111" font-family="Liberation Sans, sans-serif" stroke="#111" stroke-width="0.3" >4 h</text>
<text x="89.30" y="228.90" font-size="11.1" text-anchor="start" fill="#111" font-family="Liberation Sans, sans-serif" stroke="#111" stroke-width="0.3" >12 h</text>
<text transform="translate(12.80,258.60) rotate(-90) scale(1,1)" font-size="12.4" text-anchor="middle" fill="#111" font-family="Liberation Sans, sans-serif" stroke="#111" stroke-width="0.3">Mean Fluorescence</text>
<text transform="translate(26.70,258.90) rotate(-90) scale(1,1)" font-size="12.1" text-anchor="middle" fill="#111" font-family="Liberation Sans, sans-serif" stroke="#111" stroke-width="0.3">Intensity (MFI)</text>
<text transform="translate(102.90,312.90) rotate(-39) scale(1,1.12)" font-size="11.8" text-anchor="end" fill="#111" font-family="Liberation Sans, sans-serif" stroke="#111" stroke-width="0.3">CBD-MDSC</text>
<text transform="translate(144.80,312.50) rotate(-40) scale(1,1.14)" font-size="11.4" text-anchor="end" fill="#111" font-family="Liberation Sans, sans-serif" stroke="#111" stroke-width="0.3">TG-neu</text>
<line x1="244.80" y1="204.65" x2="331.35" y2="204.65" stroke="#777" stroke-width="1" />
<line x1="331.35" y1="204.65" x2="331.35" y2="302.20" stroke="#8c8c8c" stroke-width="1" />
<line x1="244.80" y1="204.15" x2="244.80" y2="306.40" stroke="#555" stroke-width="1" />
<line x1="240.30" y1="302.20" x2="331.35" y2="302.20" stroke="#555" stroke-width="1" />
<line x1="240.30" y1="204.65" x2="244.80" y2="204.65" stroke="#555" stroke-width="1" />
<text x="0.00" y="0.00" font-size="12.8" text-anchor="end" fill="#111" font-family="Liberation Sans, sans-serif" stroke="#111" stroke-width="0.3"  transform="translate(232.70,209.65) scale(1.18,1)">3</text>
<line x1="240.30" y1="220.91" x2="244.80" y2="220.91" stroke="#555" stroke-width="1" />
<text x="0.00" y="0.00" font-size="12.8" text-anchor="end" fill="#111" font-family="Liberation Sans, sans-serif" stroke="#111" stroke-width="0.3"  transform="translate(232.70,225.91) scale(1.18,1)">2.5</text>
<line x1="240.30" y1="237.17" x2="244.80" y2="237.17" stroke="#555" stroke-width="1" />
<text x="0.00" y="0.00" font-size="12.8" text-anchor="end" fill="#111" font-family="Liberation Sans, sans-serif" stroke="#111" stroke-width="0.3"  transform="translate(232.70,242.17) scale(1.18,1)">2</text>
<line x1="240.30" y1="253.43" x2="244.80" y2="253.43" stroke="#555" stroke-width="1" />
<text x="0.00" y="0.00" font-size="12.8" text-anchor="end" fill="#111" font-family="Liberation Sans, sans-serif" stroke="#111" stroke-width="0.3"  transform="translate(232.70,258.43) scale(1.18,1)">1.5</text>
<line x1="240.30" y1="269.68" x2="244.80" y2="269.68" stroke="#555" stroke-width="1" />
<text x="0.00" y="0.00" font-size="12.8" text-anchor="end" fill="#111" font-family="Liberation Sans, sans-serif" stroke="#111" stroke-width="0.3"  transform="translate(232.70,274.68) scale(1.18,1)">1</text>
<line x1="240.30" y1="285.94" x2="244.80" y2="285.94" stroke="#555" stroke-width="1" />
<text x="0.00" y="0.00" font-size="12.8" text-anchor="end" fill="#111" font-family="Liberation Sans, sans-serif" stroke="#111" stroke-width="0.3"  transform="translate(232.70,290.94) scale(1.18,1)">0.5</text>
<text x="0.00" y="0.00" font-size="12.8" text-anchor="end" fill="#111" font-family="Liberation Sans, sans-serif" stroke="#111" stroke-width="0.3"  transform="translate(232.70,307.20) scale(1.18,1)">0</text>
<line x1="288.60" y1="302.20" x2="288.60" y2="306.40" stroke="#555" stroke-width="1" />
<line x1="331.35" y1="302.20" x2="331.35" y2="306.40" stroke="#555" stroke-width="1" />
<rect x="253.50" y="297.00" width="12.80" height="5.00" fill="#b4b4b4" stroke="#4f4f4f" stroke-width="0.9"/>
<rect x="266.30" y="275.40" width="12.70" height="26.60" fill="#000" stroke="none" stroke-width="0"/>
<line x1="259.90" y1="293.20" x2="259.90" y2="297.00" stroke="#444" stroke-width="0.9" /><line x1="257.70" y1="293.20" x2="262.10" y2="293.20" stroke="#444" stroke-width="0.9" />
<line x1="272.60" y1="270.60" x2="272.60" y2="275.40" stroke="#444" stroke-width="0.9" /><line x1="270.40" y1="270.60" x2="274.80" y2="270.60" stroke="#444" stroke-width="0.9" />
<rect x="297.80" y="238.00" width="12.50" height="64.00" fill="#b4b4b4" stroke="#4f4f4f" stroke-width="0.9"/>
<rect x="310.30" y="288.10" width="12.10" height="13.90" fill="#000" stroke="none" stroke-width="0"/>
<line x1="304.00" y1="219.90" x2="304.00" y2="238.00" stroke="#444" stroke-width="0.9" /><line x1="301.80" y1="219.90" x2="306.20" y2="219.90" stroke="#444" stroke-width="0.9" />
<line x1="316.50" y1="279.50" x2="316.50" y2="288.10" stroke="#444" stroke-width="0.9" /><line x1="314.30" y1="279.50" x2="318.70" y2="279.50" stroke="#444" stroke-width="0.9" />
<rect x="248.80" y="208.60" width="6.10" height="5.65" fill="#bcbcbc" stroke="#4a4a4a" stroke-width="1"/>
<rect x="248.30" y="220.50" width="6.90" height="6.40" fill="#000" stroke="none" stroke-width="0"/>
<text x="0.00" y="0.00" font-size="11" text-anchor="start" fill="#111" font-family="Liberation Sans, sans-serif" stroke="#111" stroke-width="0.3"  transform="translate(257.60,215.60) scale(1.08,1)">4 h</text>
<text x="259.70" y="228.30" font-size="11.1" text-anchor="start" fill="#111" font-family="Liberation Sans, sans-serif" stroke="#111" stroke-width="0.3" >12 h</text>
<text transform="translate(204.9,257.6) rotate(-90)" font-size="12.05" text-anchor="middle" fill="#111" font-family="Liberation Sans, sans-serif" stroke="#111" stroke-width="0.3">Abs cell #/ PM (x10<tspan dy="-4" font-size="8">6</tspan><tspan dy="4">)</tspan></text>
<text transform="translate(270.80,314.10) rotate(-39) scale(1,1.12)" font-size="11.8" text-anchor="end" fill="#111" font-family="Liberation Sans, sans-serif" stroke="#111" stroke-width="0.3">CBD-MDSC</text>
<text transform="translate(311.60,312.30) rotate(-40) scale(1,1.14)" font-size="11.4" text-anchor="end" fill="#111" font-family="Liberation Sans, sans-serif" stroke="#111" stroke-width="0.3">TG-neu</text>
<line x1="406.60" y1="203.20" x2="501.90" y2="203.20" stroke="#777" stroke-width="1" />
<line x1="501.90" y1="203.20" x2="501.90" y2="299.50" stroke="#777" stroke-width="1" />
<line x1="406.60" y1="202.70" x2="406.60" y2="299.50" stroke="#555" stroke-width="1" />
<line x1="403.60" y1="296.50" x2="501.90" y2="296.50" stroke="#555" stroke-width="1" />
<line x1="403.60" y1="203.20" x2="406.60" y2="203.20" stroke="#555" stroke-width="1" />
<text x="0.00" y="0.00" font-size="9.9" text-anchor="end" fill="#111" font-family="Liberation Sans, sans-serif" stroke="#111" stroke-width="0.3"  transform="translate(398.00,207.00) scale(1.05,1)">80000</text>
<line x1="403.60" y1="226.52" x2="406.60" y2="226.52" stroke="#555" stroke-width="1" />
<text x="0.00" y="0.00" font-size="9.9" text-anchor="end" fill="#111" font-family="Liberation Sans, sans-serif" stroke="#111" stroke-width="0.3"  transform="translate(398.00,230.32) scale(1.05,1)">60000</text>
<line x1="403.60" y1="249.85" x2="406.60" y2="249.85" stroke="#555" stroke-width="1" />
<text x="0.00" y="0.00" font-size="9.9" text-anchor="end" fill="#111" font-family="Liberation Sans, sans-serif" stroke="#111" stroke-width="0.3"  transform="translate(398.00,253.65) scale(1.05,1)">40000</text>
<line x1="403.60" y1="273.18" x2="406.60" y2="273.18" stroke="#555" stroke-width="1" />
<text x="0.00" y="0.00" font-size="9.9" text-anchor="end" fill="#111" font-family="Liberation Sans, sans-serif" stroke="#111" stroke-width="0.3"  transform="translate(398.00,276.98) scale(1.05,1)">20000</text>
<line x1="403.60" y1="296.50" x2="406.60" y2="296.50" stroke="#555" stroke-width="1" />
<text x="0.00" y="0.00" font-size="9.9" text-anchor="end" fill="#111" font-family="Liberation Sans, sans-serif" stroke="#111" stroke-width="0.3"  transform="translate(398.00,300.30) scale(1.05,1)">0</text>
<line x1="438.50" y1="296.50" x2="438.50" y2="299.50" stroke="#555" stroke-width="1" />
<line x1="470.50" y1="296.50" x2="470.50" y2="299.50" stroke="#555" stroke-width="1" />
<rect x="415.60" y="220.90" width="13.90" height="75.80" fill="#000" stroke="none" stroke-width="0"/>
<line x1="422.80" y1="214.30" x2="422.80" y2="220.90" stroke="#444" stroke-width="0.9" /><line x1="420.60" y1="214.30" x2="425.00" y2="214.30" stroke="#444" stroke-width="0.9" />
<rect x="447.90" y="228.60" width="13.90" height="68.10" fill="#000" stroke="none" stroke-width="0"/>
<line x1="455.00" y1="226.00" x2="455.00" y2="228.60" stroke="#444" stroke-width="0.9" /><line x1="452.80" y1="226.00" x2="457.20" y2="226.00" stroke="#444" stroke-width="0.9" />
<rect x="479.40" y="275.30" width="13.90" height="21.40" fill="#000" stroke="none" stroke-width="0"/>
<line x1="486.40" y1="271.00" x2="486.40" y2="275.30" stroke="#444" stroke-width="0.9" /><line x1="484.20" y1="271.00" x2="488.60" y2="271.00" stroke="#444" stroke-width="0.9" />
<text x="443.3" y="220.8" font-size="10.4" fill="#111" font-family="Liberation Sans, sans-serif" stroke="#111" stroke-width="0.3"><tspan font-style="italic">p</tspan>=0.1239</text>
<text x="469.8" y="264.4" font-size="10.4" fill="#111" font-family="Liberation Sans, sans-serif" stroke="#111" stroke-width="0.3"><tspan font-style="italic">p</tspan>=0.0002</text>
<text transform="translate(362.30,250.80) rotate(-90) scale(1,1)" font-size="12.2" text-anchor="middle" fill="#111" font-family="Liberation Sans, sans-serif" stroke="#111" stroke-width="0.3">cpm</text>
<text x="423.10" y="310.30" font-size="10.1" text-anchor="middle" fill="#111" font-family="Liberation Sans, sans-serif" stroke="#111" stroke-width="0.3" >T cells</text>
<text x="455.60" y="309.90" font-size="10.3" text-anchor="middle" fill="#111" font-family="Liberation Sans, sans-serif" stroke="#111" stroke-width="0.3" >1:10</text>
<text x="488.30" y="309.90" font-size="10.3" text-anchor="middle" fill="#111" font-family="Liberation Sans, sans-serif" stroke="#111" stroke-width="0.3" >1:10</text>
<line x1="442.00" y1="314.40" x2="467.60" y2="314.40" stroke="#555" stroke-width="1" />
<line x1="475.30" y1="314.40" x2="501.20" y2="314.40" stroke="#555" stroke-width="1" />
<text transform="translate(463.60,321.30) rotate(-40.6) scale(1,1.05)" font-size="12.6" text-anchor="end" fill="#111" font-family="Liberation Sans, sans-serif" stroke="#111" stroke-width="0.3">TGneu:TC</text>
<text transform="translate(494.30,323.60) rotate(-40) scale(1,1.05)" font-size="12.1" text-anchor="end" fill="#111" font-family="Liberation Sans, sans-serif" stroke="#111" stroke-width="0.3">CBDMDSC:TC</text>
</svg>
</body></html>
